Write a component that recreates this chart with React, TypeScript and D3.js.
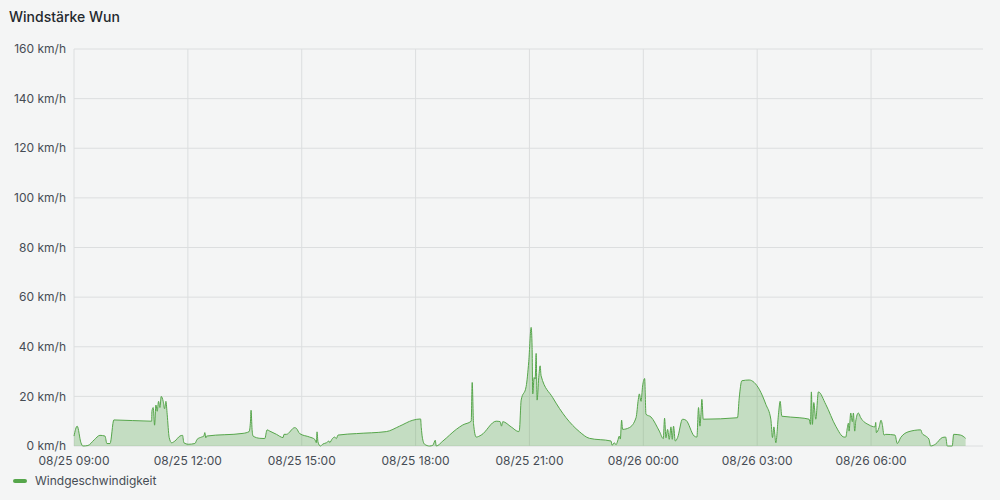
import React from 'react'
import * as d3 from 'd3'

// minutes after 08/25 09:00
const minutes = [
  0, 5, 11, 14, 22, 32, 41, 49, 52, 57, 63, 122.7, 123.2, 125.2, 127.4, 129.5, 131.5, 133.7, 135.8, 137.9,
  141, 143.2, 145.3, 147.3, 150.5, 154.3, 159.5, 167.4, 171.6, 173.7, 180.5, 191.1, 194.7, 201.6, 205.3, 206.8,
  208.4, 209.5, 267.3, 276.8, 279, 279.9, 281.5, 283.1, 293.7, 301.6, 305.2, 309.5, 320, 330.5, 332, 335.8,
  348.9, 351.6, 356.8, 372.6, 380.5, 383.2, 384.2, 385.7, 389.5, 393.6, 399, 403.1, 404.2, 408.5, 412.1, 414.8,
  417.3, 446.4, 493.7, 514.7, 535.7, 547.9, 549, 550.6, 554.2, 562.1, 567.3, 571.1, 572.7, 583.1, 604.3, 614.7,
  627.9, 629.5, 631.6, 635.8, 643.7, 667.4, 673.7, 675.8, 677.8, 691.1, 703.1, 704.2, 706.9, 714.8, 718.9, 722.7,
  724.2, 725.2, 727.4, 729, 730.6, 732.1, 734.7, 736.9, 738.4, 756.8, 777.9, 798.9, 814.7, 849, 850.6, 854.2,
  856.9, 859.4, 862.1, 863.7, 865.7, 867.3, 877.9, 888.5, 892.1, 893.7, 896.4, 898.9, 902.1, 904.2, 912.1, 925.3,
  931.6, 933.6, 935.8, 938.4, 941, 943.7, 945.8, 947.8, 950.5, 954.2, 962, 967.4, 980.5, 984.7, 987.3, 989.5,
  991.1, 992.6, 994.7, 1048.9, 1051.6, 1055.8, 1067.4, 1075.3, 1083.2, 1093.7, 1101.6, 1104.2, 1106.4, 1109.5,
  1113.7, 1116.3, 1119, 1146.3, 1162.1, 1164.2, 1165.7, 1167.3, 1169.5, 1172.6, 1176.8, 1188.4, 1204.2, 1217.4,
  1220, 1222.6, 1224.2, 1225.3, 1227.9, 1230.5, 1232.1, 1234.2, 1235.8, 1239.9, 1243.7, 1256.8, 1266.3, 1267.4,
  1268.4, 1272.6, 1275.8, 1277.8, 1280.5, 1283.2, 1297.9, 1301.5, 1306.9, 1320, 1338.5, 1341, 1346.4, 1351.6,
  1354.2, 1362.1, 1372.6, 1378, 1380.5, 1388.4, 1390.6, 1401.6, 1409.5,
]

// km/h
const windSpeed = [
  4, 8, 1.3, 0, 0.2, 2.5, 4.3, 4, 1, 1, 10.5, 10, 14, 15.5, 8.4, 16.5, 14, 18, 15.5, 20,
  18, 15, 18, 12.8, 3.4, 1.3, 2, 4, 4.3, 1.3, 0.7, 1, 2.7, 3.6, 4, 5.4,
  3.3, 4, 5.1, 5.8, 10, 14.4, 6.7, 4, 3.1, 3, 6.5, 6, 4.7, 3.4, 4.7, 4.7,
  7.4, 7.1, 5, 3.6, 2.7, 1.3, 5.7, 1.6, 0, 0.8, 1.3, 2, 1.4, 3, 3.6, 3,
  4.4, 5, 5.8, 8, 10.4, 10.9, 7.4, 3.6, 0.7, 0, 0.3, 2.3, 0, 2, 6.7, 8.5,
  10, 25.6, 9, 3.6, 4.4, 10, 9.8, 8, 9.8, 7.7, 5.8, 6.5, 18.5, 24, 34, 47.8,
  39.7, 21, 27.6, 27, 37.3, 18.5, 27.6, 32.3, 28.3, 19.5, 11.4, 5.8, 3.1, 2, 0.3, 1.3,
  0.5, 2, 4, 2.8, 10.4, 6.7, 7.4, 11.4, 18.8, 21, 18, 24.2, 27.2, 12.8, 11.7, 6,
  3, 11.2, 3.3, 6.7, 2.7, 7.7, 2.7, 8, 2, 3.4, 10.8, 10.4, 4, 3.6, 15.5, 8,
  12.8, 18.8, 10.8, 11.4, 19.3, 26.3, 26.6, 25.6, 22.9, 16.8, 10.8, 3.4, 7.7, 1.3,
  12.8, 18, 12, 11.4, 10.8, 8.7, 21.8, 8.7, 17.5, 10.8, 21.8, 16.8, 8, 3.6,
  3.6, 7.4, 9.2, 6, 13.3, 9.8, 13.3, 6, 10, 13.3, 11.4, 8.5, 7.7, 9.5,
  5.4, 7.4, 10.4, 8.7, 4.4, 4.7, 4.4, 1, 3.4, 5.8, 6.5, 5, 4, 2.7,
  0, 0.8, 3.4, 3.6, 0, 0, 4.7, 4.4, 3.1,
]

const yTicks = [0, 20, 40, 60, 80, 100, 120, 140, 160]
const title = 'Windstärke Wun'
const seriesName = 'Windgeschwindigkeit'

const start = new Date(2023, 7, 25, 9, 0)
const end = new Date(2023, 7, 26, 8, 57)

const App: React.FunctionComponent = () => {
  const width = 1000
  const height = 500
  const margin = { left: 74, right: 17, top: 49, bottom: 54 }

  const x = d3
    .scaleTime()
    .domain([start, end])
    .range([margin.left, width - margin.right])

  const y = d3
    .scaleLinear()
    .domain([0, 160])
    .range([height - margin.bottom, margin.top])

  const points: [Date, number][] = minutes.map((m, i) => [
    new Date(start.getTime() + m * 60000),
    windSpeed[i],
  ])

  const line = d3
    .line<[Date, number]>()
    .x(d => x(d[0]))
    .y(d => y(d[1]))
    .curve(d3.curveMonotoneX)

  const area = d3
    .area<[Date, number]>()
    .x(d => x(d[0]))
    .y0(y(0))
    .y1(d => y(d[1]))
    .curve(d3.curveMonotoneX)

  const xTicks = x.ticks(d3.timeHour.every(3)!)
  const format = d3.timeFormat('%m/%d %H:%M')

  const font = 'Inter, "Noto Sans", sans-serif'
  const textColor = '#464c54'
  const gridColor = '#dcdedf'
  const green = '#56a64b'

  return (
    <svg
      width={width}
      height={height}
      style={{ position: 'absolute', left: 0, top: 0, background: '#f4f5f5' }}
      fontFamily={font}
    >
      <rect width={width} height={height} fill="#f4f5f5" />
      <text x={9} y={22} fontSize={14} fontWeight={500} fill="#24292e">
        {title}
      </text>

      {yTicks.map(t => (
        <g key={t}>
          <line x1={margin.left} x2={width - margin.right} y1={y(t)} y2={y(t)} stroke={gridColor} />
          <text x={66} y={y(t)} dy="0.35em" textAnchor="end" fontSize={12} fill={textColor}>
            {`${t} km/h`}
          </text>
        </g>
      ))}

      {xTicks.map(t => (
        <g key={t.getTime()}>
          <line x1={x(t)} x2={x(t)} y1={margin.top} y2={height - margin.bottom} stroke={gridColor} />
          <text x={x(t)} y={465} textAnchor="middle" fontSize={12} fill={textColor}>
            {format(t)}
          </text>
        </g>
      ))}

      <path d={area(points) ?? ''} fill={green} fillOpacity={0.3} />
      <path d={line(points) ?? ''} fill="none" stroke={green} strokeWidth={1} />

      <line x1={15} x2={25} y1={481} y2={481} stroke={green} strokeWidth={4} strokeLinecap="round" />
      <text x={35} y={481} dy="0.35em" fontSize={12} fill={textColor}>
        {seriesName}
      </text>
    </svg>
  )
}

export default App
